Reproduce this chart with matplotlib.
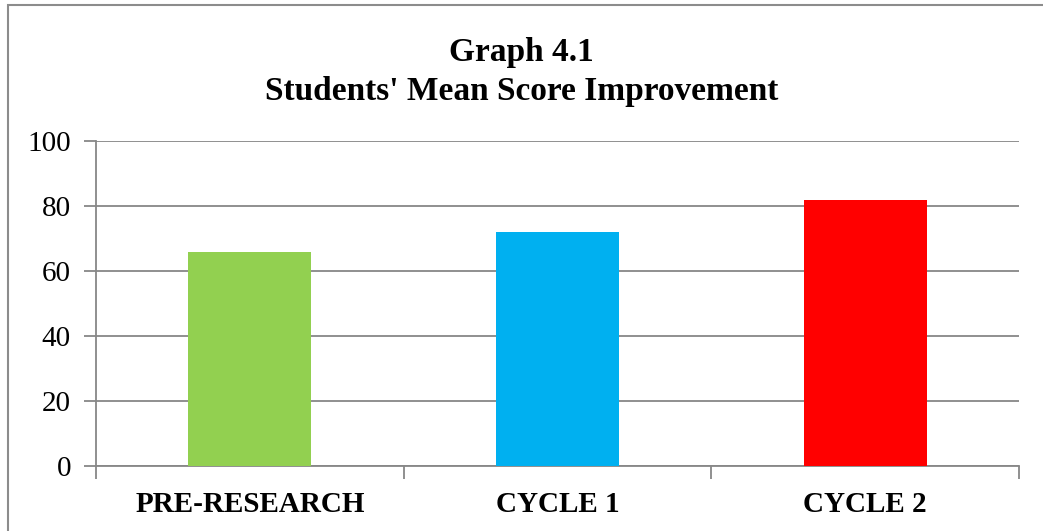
import matplotlib.pyplot as plt
from matplotlib.patches import Rectangle

categories = ['PRE-RESEARCH', 'CYCLE 1', 'CYCLE 2']
scores = [66, 72, 82]
bar_colors = ['#92d050', '#00b0f0', '#ff0000']

plt.rcParams['font.family'] = ['Liberation Serif', 'DejaVu Serif']

W, H = 1043, 531
fig = plt.figure(figsize=(W / 100, H / 100), dpi=100)
ax = fig.add_axes([96 / W, 1 - 466 / H, (1019 - 96) / W, (466 - 141) / H])

grey = '#878787'
x = range(len(categories))
ax.bar(x, scores, width=0.4, color=bar_colors, zorder=3)

ax.set_xlim(-0.5, len(categories) - 0.5)
ax.set_ylim(0, 100)
ax.set_yticks(range(0, 101, 20))
ax.yaxis.grid(True, color=grey, linewidth=1.3, zorder=0)

# category boundary ticks below the x axis
ax.set_xticks([i - 0.5 for i in range(len(categories) + 1)], minor=False)
ax.set_xticklabels([])
ax.set_xticks(list(x), minor=True)
ax.set_xticklabels(categories, minor=True, fontsize=21, fontweight='bold')
ax.tick_params(axis='x', which='major', length=9, width=1.3, color=grey)
ax.tick_params(axis='x', which='minor', length=0, pad=18)
ax.tick_params(axis='y', length=9, width=1.3, color=grey, labelsize=21, pad=9)

for side in ['top', 'right']:
    ax.spines[side].set_visible(False)
for side in ['left', 'bottom']:
    ax.spines[side].set_color(grey)
    ax.spines[side].set_linewidth(1.3)

fig.text(0.5, 1 - 72 / H, "Graph 4.1\nStudents' Mean Score Improvement",
         ha='center', va='center', fontsize=24, fontweight='bold', linespacing=1.3)

# outer chart border
fig.patches.append(Rectangle((8 / W, -0.1), 1.2, 1 - 5 / H + 0.1, transform=fig.transFigure,
                             fill=False, edgecolor='#8c8c8c', linewidth=1.5))

fig.savefig('out.png', dpi=100)
